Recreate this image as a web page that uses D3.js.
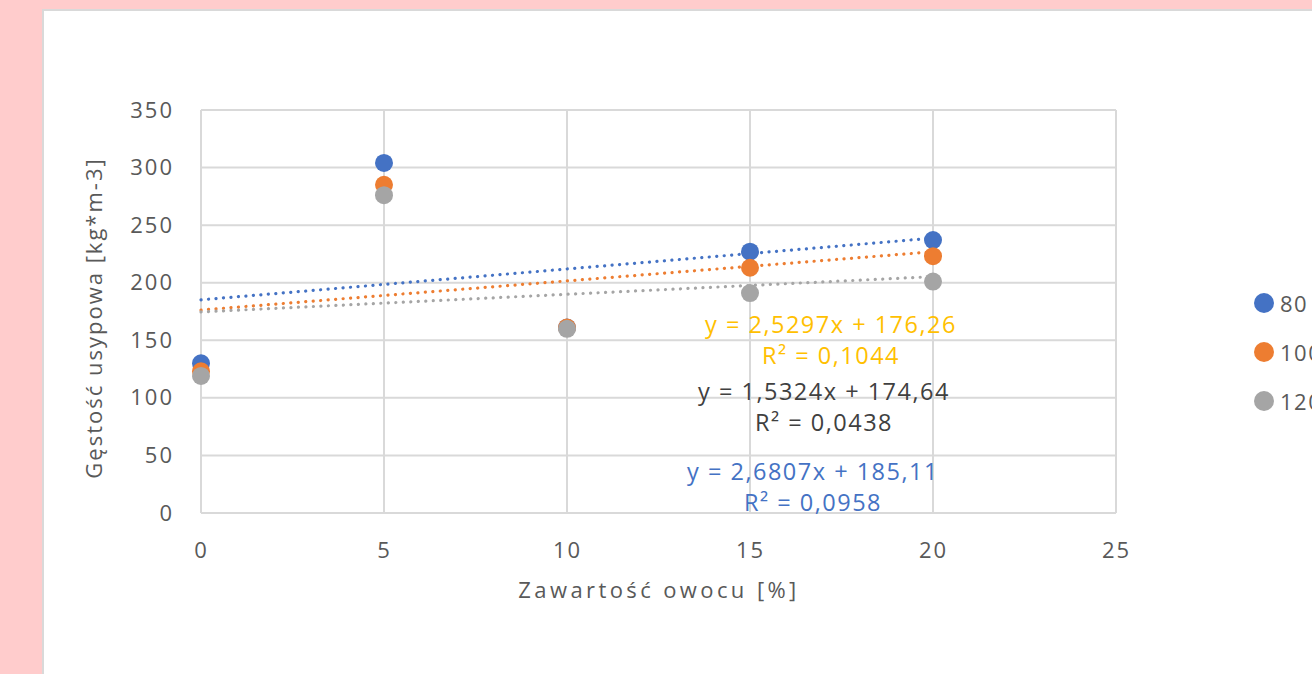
<!DOCTYPE html>
<html>
<head>
<meta charset="utf-8">
<script src="https://cdn.jsdelivr.net/npm/d3@7"></script>
<style>
  html, body { margin: 0; padding: 0; background: #ffcccc; overflow: hidden; }
  svg { display: block; }
</style>
</head>
<body>
<div id="viz"></div>
<script>
// dane
const xValues = [0, 5, 10, 15, 20];
const seriesNames = ["80", "100", "120"];
const series80 = [130, 304, 161, 227, 237];
const series100 = [123, 285, 161, 213, 223];
const series120 = [119, 276, 160, 191, 201];
const trendSlopes = [2.6807, 2.5297, 1.5324];
const trendIntercepts = [185.11, 176.26, 174.64];
const trendR2 = ["0,0958", "0,1044", "0,0438"];
const xTicks = [0, 5, 10, 15, 20, 25];
const yTicks = [0, 50, 100, 150, 200, 250, 300, 350];

const W = 1312, H = 674;
const FONT = "'Open Sans', sans-serif";
const colors = ["#4472c4", "#ed7d31", "#a5a5a5"];
const labelColors = ["#4472c4", "#ffc000", "#404040"];
const fmt = v => v.toFixed(v % 1 === 0 ? 0 : 2).replace(".", ",");

const svg = d3.select("#viz").append("svg")
    .attr("width", W).attr("height", H);

// tlo karty
svg.append("rect")
    .attr("x", 43).attr("y", 10)
    .attr("width", W).attr("height", H)
    .attr("fill", "#fff").attr("stroke", "#d9d9d9").attr("stroke-width", 2);

const x = d3.scaleLinear().domain([0, 25]).range([201, 1116]);
const y = d3.scaleLinear().domain([0, 350]).range([513, 110]);

// siatka
const grid = svg.append("g").attr("stroke", "#d9d9d9").attr("stroke-width", 2);
grid.selectAll(".gx").data(xTicks).join("line")
    .attr("x1", d => x(d)).attr("x2", d => x(d))
    .attr("y1", y(0)).attr("y2", y(350));
grid.selectAll(".gy").data(yTicks).join("line")
    .attr("y1", d => y(d)).attr("y2", d => y(d))
    .attr("x1", x(0)).attr("x2", x(25));

// osie
const xAxis = svg.append("g")
    .attr("transform", `translate(0,${y(0)})`)
    .call(d3.axisBottom(x).tickValues(xTicks).tickSize(0).tickPadding(29));
const yAxis = svg.append("g")
    .attr("transform", `translate(${x(0)},0)`)
    .call(d3.axisLeft(y).tickValues(yTicks).tickSize(0).tickPadding(27));
[xAxis, yAxis].forEach(a => {
  a.select(".domain").remove();
  a.selectAll("text")
    .attr("fill", "#595959")
    .style("font-family", FONT)
    .style("font-size", "22px")
    .style("letter-spacing", "2px");
});

// linie trendu
const data = [series80, series100, series120];
data.forEach((s, i) => {
  const line = d3.line().x(d => x(d)).y(d => y(trendSlopes[i] * d + trendIntercepts[i]));
  svg.append("path")
    .attr("d", line([0, 20]))
    .attr("fill", "none")
    .attr("stroke", colors[i])
    .attr("stroke-width", 3.2)
    .attr("stroke-linecap", "round")
    .attr("stroke-dasharray", "0.1 7.4");
});

// punkty
data.forEach((s, i) => {
  svg.append("g").selectAll("circle")
    .data(s.map((v, k) => [xValues[k], v]))
    .join("circle")
    .attr("cx", d => x(d[0]))
    .attr("cy", d => y(d[1]))
    .attr("r", 9)
    .attr("fill", colors[i]);
});

// rownania trendu
const eqPos = [[813, 480], [831, 333], [824, 400]];
data.forEach((s, i) => {
  const g = svg.append("g")
    .attr("fill", labelColors[i])
    .attr("text-anchor", "middle")
    .style("font-family", FONT)
    .style("font-size", "23.5px")
    .style("letter-spacing", "1.5px");
  g.append("text")
    .attr("x", eqPos[i][0]).attr("y", eqPos[i][1])
    .text(`y = ${trendSlopes[i].toFixed(4).replace(".", ",")}x + ${fmt(trendIntercepts[i])}`);
  g.append("text")
    .attr("x", eqPos[i][0]).attr("y", eqPos[i][1] + 31)
    .text(`R² = ${trendR2[i]}`);
});

// tytuly osi
svg.append("text")
    .attr("x", 659).attr("y", 598)
    .attr("text-anchor", "middle")
    .attr("fill", "#595959")
    .style("font-family", FONT)
    .style("font-size", "22px")
    .style("letter-spacing", "3.4px")
    .text("Zawartość owocu [%]");
svg.append("text")
    .attr("transform", "translate(102,318) rotate(-90)")
    .attr("text-anchor", "middle")
    .attr("fill", "#595959")
    .style("font-family", FONT)
    .style("font-size", "22px")
    .style("letter-spacing", "2px")
    .text("Gęstość usypowa [kg*m-3]");

// legenda
const leg = svg.append("g");
seriesNames.forEach((n, i) => {
  const ly = 303 + i * 49;
  leg.append("circle").attr("cx", 1264).attr("cy", ly).attr("r", 10).attr("fill", colors[i]);
  leg.append("text")
    .attr("x", 1280).attr("y", ly + 9)
    .attr("fill", "#595959")
    .style("font-family", FONT)
    .style("font-size", "22px")
    .style("letter-spacing", "1.5px")
    .text(n);
});
</script>
</body>
</html>
